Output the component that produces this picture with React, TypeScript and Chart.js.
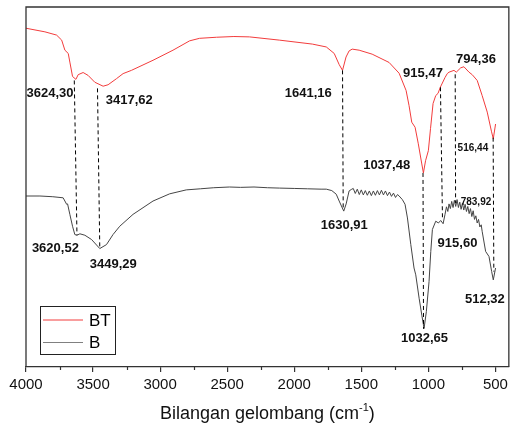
import React, { useEffect, useRef } from "react";
import { Chart, registerables } from "chart.js";

Chart.register(...registerables);

// ---- Data (wavenumber in cm^-1, transmittance in arbitrary %) ----
const wavenumberBT = [
  4000, 3859, 3772, 3734, 3710, 3685, 3673, 3653, 3628, 3611, 3574, 3537, 3487, 3425, 3388, 3325,
  3276, 3214, 3053, 2904, 2780, 2706, 2579, 2450, 2334, 2111, 1865, 1761, 1702, 1665, 1640, 1614,
  1591, 1568, 1516, 1419, 1293, 1218, 1166, 1144, 1124, 1099, 1075, 1049, 1037, 1021, 1000, 984,
  965, 945, 928, 911, 876, 859, 846, 809, 792, 759, 735, 697, 673, 636, 599, 561, 530, 516, 499,
];
const transBT = [
  94.1, 93.1, 92.2, 90.8, 88.0, 87.1, 84.7, 80.7, 79.9, 81.2, 81.8, 81.0, 79.1, 78.0, 78.4, 80.1,
  81.5, 82.4, 85.2, 88.0, 90.6, 91.3, 91.6, 91.8, 91.7, 90.8, 89.7, 88.9, 87.1, 84.0, 82.4, 86.1,
  87.8, 88.3, 88.0, 86.9, 84.6, 81.6, 76.8, 72.6, 68.0, 66.6, 62.0, 56.4, 53.9, 57.3, 60.1, 66.2,
  73.2, 75.4, 76.0, 77.7, 80.4, 81.5, 81.9, 82.4, 81.9, 83.1, 83.4, 81.9, 81.2, 79.6, 75.4, 70.8, 65.5, 63.4, 67.5,
];

const wavenumberB = [
  4000, 3896, 3800, 3723, 3697, 3690, 3673, 3653, 3636, 3621, 3598, 3561, 3511, 3450, 3400, 3351,
  3301, 3202, 3053, 2929, 2805, 2700, 2600, 2483, 2400, 2300, 2200, 2111, 2000, 1900, 1800, 1761,
  1720, 1687, 1665, 1631, 1613, 1591, 1575,
  1560, 1545, 1530, 1515, 1500, 1485, 1470, 1455, 1440, 1425, 1410, 1395, 1380, 1365, 1350, 1335,
  1320, 1305, 1290, 1275, 1260, 1245, 1230,
  1218, 1194, 1174, 1156, 1131, 1107, 1094, 1069, 1049, 1032, 1015, 995, 982, 970, 945, 925, 908, 890,
  876, 865, 855, 846, 836, 826, 816, 806, 796, 786, 776, 766, 756, 746, 736, 726, 716, 706, 696, 686,
  676, 666, 656, 646, 636, 626, 616, 606,
  599, 573, 548, 528, 516, 499,
];
const transB = [
  47.5, 47.5, 47.3, 47.0, 45.2, 45.3, 42.4, 39.1, 36.8, 36.6, 37.0, 36.6, 35.4, 32.9, 34.0, 36.8,
  39.1, 42.4, 46.1, 48.1, 49.2, 49.5, 49.8, 50.0, 49.9, 50.0, 49.8, 49.7, 49.6, 49.5, 49.4, 49.4,
  49.0, 48.0, 46.1, 43.3, 45.3, 48.9, 49.3,
  49.6, 48.2, 49.4, 47.9, 49.2, 47.8, 49.0, 47.7, 48.9, 47.6, 48.9, 47.7, 49.0, 47.8, 49.1, 47.8,
  48.9, 47.6, 48.6, 47.4, 48.3, 47.1, 47.9,
  47.5, 46.5, 45.2, 41.4, 34.0, 27.5, 25.6, 19.1, 14.4, 10.7, 15.4, 23.7, 32.1, 38.2, 40.5, 40.0, 40.7, 39.8,
  42.4, 44.5, 43.2, 45.3, 44.0, 46.0, 44.3, 46.3, 44.6, 46.5, 44.3, 45.8, 43.8, 45.5, 43.6, 45.2, 43.2, 44.6, 42.6, 44.0,
  41.8, 43.4, 41.0, 42.0, 40.0, 41.0, 38.9, 39.5,
  37.7, 32.1, 30.7, 26.5, 24.2, 27.5,
];

const xTickLabels = [4000, 3500, 3000, 2500, 2000, 1500, 1000, 500];
const xMinorTicks = [3750, 3250, 2750, 2250, 1750, 1250, 750];
const seriesNames = ["BT", "B"];

// peak marker lines: top point (on BT) -> bottom point (on B)
const peakLineTopX = [3640, 3467, 1640, 1040, 910, 800, 517];
const peakLineTopY = [79.6, 77.4, 82.4, 53.9, 77.7, 81.3, 63.7];
const peakLineBotX = [3620, 3450, 1635, 1036, 895, 797, 512];
const peakLineBotY = [36.6, 33.2, 44.1, 10.6, 41.6, 45.5, 26.5];

// peak labels (text, anchor wavenumber, anchor transmittance, small font?)
const peakText = [
  "3624,30", "3417,62", "1641,16", "1037,48", "915,47", "794,36", "516,44",
  "3620,52", "3449,29", "1630,91", "1032,65", "915,60", "783,92", "512,32",
];
const peakTextX = [3821, 3230, 1895, 1311, 1040, 645, 668, 3781, 3349, 1627, 1029, 783, 645, 579];
const peakTextY = [76.0, 74.0, 76.0, 55.9, 81.6, 85.5, 60.9, 33.0, 28.5, 39.4, 7.8, 34.4, 45.8, 18.7];
const peakTextSmall = [false, false, false, false, false, false, true, false, false, false, false, false, true, false];

const FONT = '"Liberation Sans", Arial, Helvetica, sans-serif';
const RED = "#f23c3c";
const DARK = "#454545";

const overlay = {
  id: "overlay",
  afterDatasetsDraw(chart: any) {
    const { ctx, chartArea: a, scales } = chart;
    const x = scales.x;
    const y = scales.y;
    ctx.save();
    // frame
    ctx.strokeStyle = "#333";
    ctx.lineWidth = 1.3;
    ctx.beginPath();
    ctx.moveTo(a.left, a.bottom);
    ctx.lineTo(a.left, a.top);
    ctx.lineTo(a.right, a.top);
    ctx.lineTo(a.right, a.bottom);
    ctx.stroke();
    // minor ticks
    ctx.lineWidth = 1.2;
    for (const v of xMinorTicks) {
      const px = Math.round(x.getPixelForValue(v)) + 0.5;
      ctx.beginPath();
      ctx.moveTo(px, a.bottom);
      ctx.lineTo(px, a.bottom + 3);
      ctx.stroke();
    }
    // dashed peak lines
    ctx.setLineDash([4, 3]);
    ctx.strokeStyle = "#000";
    ctx.lineWidth = 1;
    for (let i = 0; i < peakLineTopX.length; i++) {
      ctx.beginPath();
      ctx.moveTo(x.getPixelForValue(peakLineTopX[i]), y.getPixelForValue(peakLineTopY[i]));
      ctx.lineTo(x.getPixelForValue(peakLineBotX[i]), y.getPixelForValue(peakLineBotY[i]));
      ctx.stroke();
    }
    ctx.setLineDash([]);
    // peak labels
    ctx.fillStyle = "#111";
    ctx.textAlign = "center";
    ctx.textBaseline = "middle";
    for (let i = 0; i < peakText.length; i++) {
      ctx.font = `bold ${peakTextSmall[i] ? 10 : 13}px ${FONT}`;
      ctx.fillText(peakText[i], x.getPixelForValue(peakTextX[i]), y.getPixelForValue(peakTextY[i]));
    }
    // legend
    const lx = a.left + 14.5;
    const ly = a.bottom - 60.5;
    ctx.strokeStyle = "#222";
    ctx.lineWidth = 1;
    ctx.strokeRect(lx, ly, 75, 48);
    const ds = chart.data.datasets;
    ctx.textAlign = "left";
    ctx.font = `17px ${FONT}`;
    for (let i = 0; i < ds.length; i++) {
      const yy = ly + 13.5 + i * 22.5;
      ctx.strokeStyle = i === 0 ? RED : "#808080";
      ctx.lineWidth = 1;
      ctx.beginPath();
      ctx.moveTo(lx + 2.5, yy);
      ctx.lineTo(lx + 42.5, yy);
      ctx.stroke();
      ctx.fillStyle = "#000";
      ctx.fillText(ds[i].label, lx + 48.5, yy + 1);
    }
    // axis title with superscript
    const main = "Bilangan gelombang (cm";
    const sup = "-1";
    const close = ")";
    ctx.font = `18px ${FONT}`;
    const w1 = ctx.measureText(main).width;
    const w3 = ctx.measureText(close).width;
    ctx.font = `11px ${FONT}`;
    const w2 = ctx.measureText(sup).width;
    const total = w1 + w2 + w3;
    const cx = (a.left + a.right) / 2;
    let sx = cx - total / 2;
    const base = chart.height - 6;
    ctx.textBaseline = "alphabetic";
    ctx.fillStyle = "#111";
    ctx.font = `18px ${FONT}`;
    ctx.fillText(main, sx, base);
    sx += w1;
    ctx.font = `11px ${FONT}`;
    ctx.fillText(sup, sx, base - 8.5);
    sx += w2;
    ctx.font = `18px ${FONT}`;
    ctx.fillText(close, sx, base);
    ctx.restore();
  },
};

export default function App() {
  const ref = useRef<HTMLCanvasElement | null>(null);
  useEffect(() => {
    document.body.style.margin = "0";
    const canvas = ref.current;
    if (!canvas) return;
    const chart = new Chart(canvas, {
      type: "line",
      data: {
        datasets: [
          {
            label: seriesNames[0],
            data: wavenumberBT.map((w, i) => ({ x: w, y: transBT[i] })),
            borderColor: RED,
            borderWidth: 1,
            pointRadius: 0,
            tension: 0,
            fill: false,
          },
          {
            label: seriesNames[1],
            data: wavenumberB.map((w, i) => ({ x: w, y: transB[i] })),
            borderColor: DARK,
            borderWidth: 1,
            pointRadius: 0,
            tension: 0,
            fill: false,
          },
        ],
      },
      options: {
        responsive: false,
        animation: false,
        layout: { padding: { left: 26, right: 2, top: 7, bottom: 27 } },
        plugins: { legend: { display: false }, tooltip: { enabled: false } },
        scales: {
          x: {
            type: "linear",
            reverse: true,
            min: 400,
            max: 4000,
            afterBuildTicks: (scale: any) => {
              scale.ticks = xTickLabels.map((v) => ({ value: v }));
            },
            grid: { drawOnChartArea: false, drawTicks: true, tickLength: 5, color: "#333", lineWidth: 1.2 },
            border: { display: true, color: "#333", width: 1.3 },
            ticks: {
              autoSkip: false,
              maxRotation: 0,
              padding: 4,
              color: "#111",
              font: { family: FONT, size: 15 },
              callback: (v: any) => String(v),
            },
          },
          y: {
            display: false,
            min: 0,
            max: 100,
          },
        },
      },
      plugins: [overlay],
    });
    return () => chart.destroy();
  }, []);
  return (
    <div style={{ width: 512, height: 425 }}>
      <canvas ref={ref} width={512} height={425} />
    </div>
  );
}
